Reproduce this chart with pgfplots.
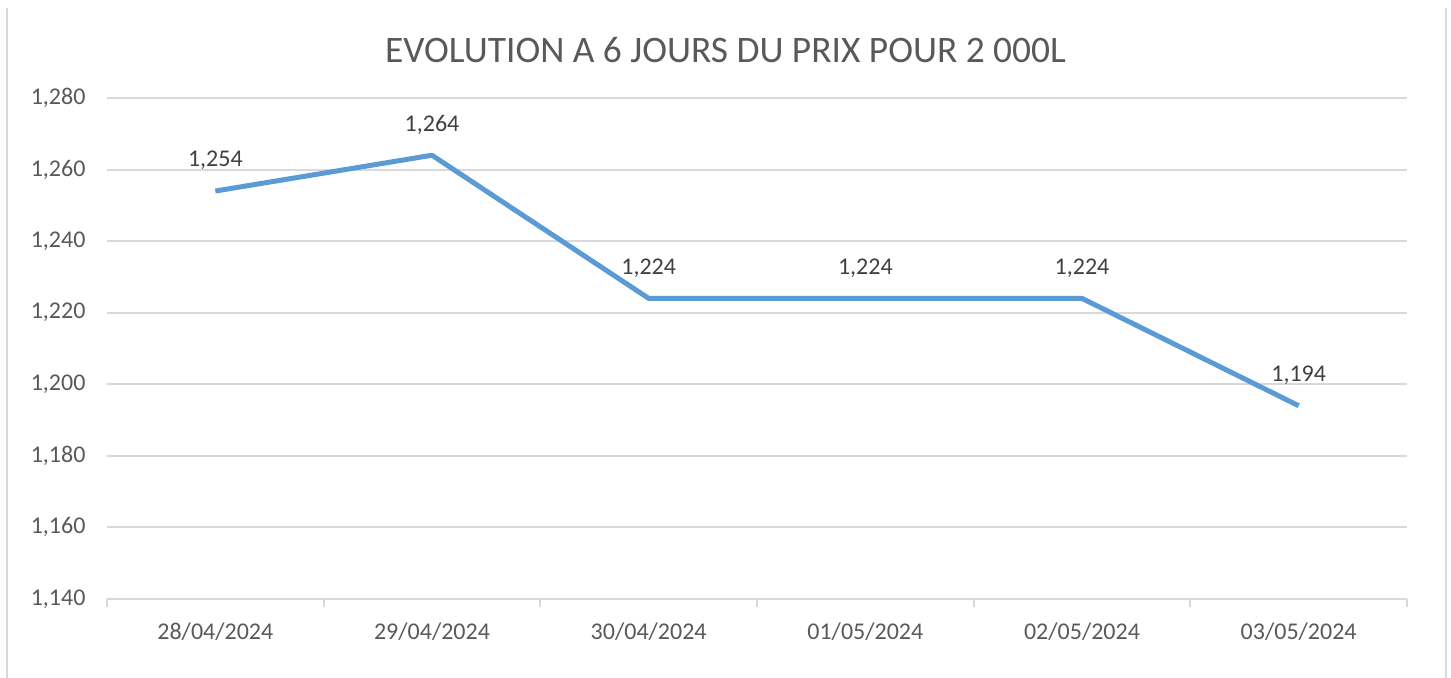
\documentclass[border=0pt]{standalone}
\usepackage{fontspec}
\setmainfont{Carlito}
\usepackage{pgfplots}
\pgfplotsset{compat=1.18}
\definecolor{linecol}{HTML}{5B9BD5}
\definecolor{gridcol}{HTML}{D9D9D9}
\definecolor{txtcol}{HTML}{595959}
\definecolor{lblcol}{HTML}{404040}
\begin{document}
\begin{tikzpicture}
\path[use as bounding box] (-53.5pt,-39.5pt) rectangle (672pt,299.5pt);
\draw[gridcol, line width=1pt] (-50pt,-39.5pt) -- (-50pt,295.5pt);
\draw[gridcol, line width=1pt] (669.5pt,-39.5pt) -- (669.5pt,295.5pt);
\node[text=txtcol, font=\fontsize{18.7}{22}\selectfont] at (309.25pt,274.5pt) {EVOLUTION A 6 JOURS DU PRIX POUR 2 000L};
\begin{axis}[
  at={(0pt,0pt)}, anchor=south west,
  scale only axis, width=650pt, height=250.5pt,
  xmin=-0.5, xmax=5.5, ymin=1140, ymax=1280,
  xtick={0,...,5},
  xticklabels={28/04/2024,29/04/2024,30/04/2024,01/05/2024,02/05/2024,03/05/2024},
  minor xtick={-0.5,0.5,...,5.5},
  ytick={1140,1160,...,1280},
  major x tick style={draw=none},
  minor x tick style={gridcol, line width=1pt},
  minor tick length=4pt,
  tick align=outside,
  major y tick style={draw=none},
  ymajorgrids, grid style={gridcol, line width=1pt},
  axis x line*=bottom, axis y line*=left,
  x axis line style={gridcol, line width=1pt, -},
  y axis line style={draw=none},
  /pgf/number format/assume math mode=true,
  /pgf/number format/1000 sep={,},
  ticklabel style={text=txtcol, font=\fontsize{12}{14}\selectfont},
  yticklabel style={xshift=-3pt},
  xticklabel style={yshift=-4pt},
  nodes near coords,
  nodes near coords style={text=lblcol, font=\fontsize{12}{14}\selectfont, anchor=south, yshift=6pt},
  clip=false,
]
\addplot[linecol, line width=2.5pt, line join=round, mark=none] coordinates {
  (0,1254) (1,1264) (2,1224) (3,1224) (4,1224) (5,1194)
};
\end{axis}
\end{tikzpicture}
\end{document}
